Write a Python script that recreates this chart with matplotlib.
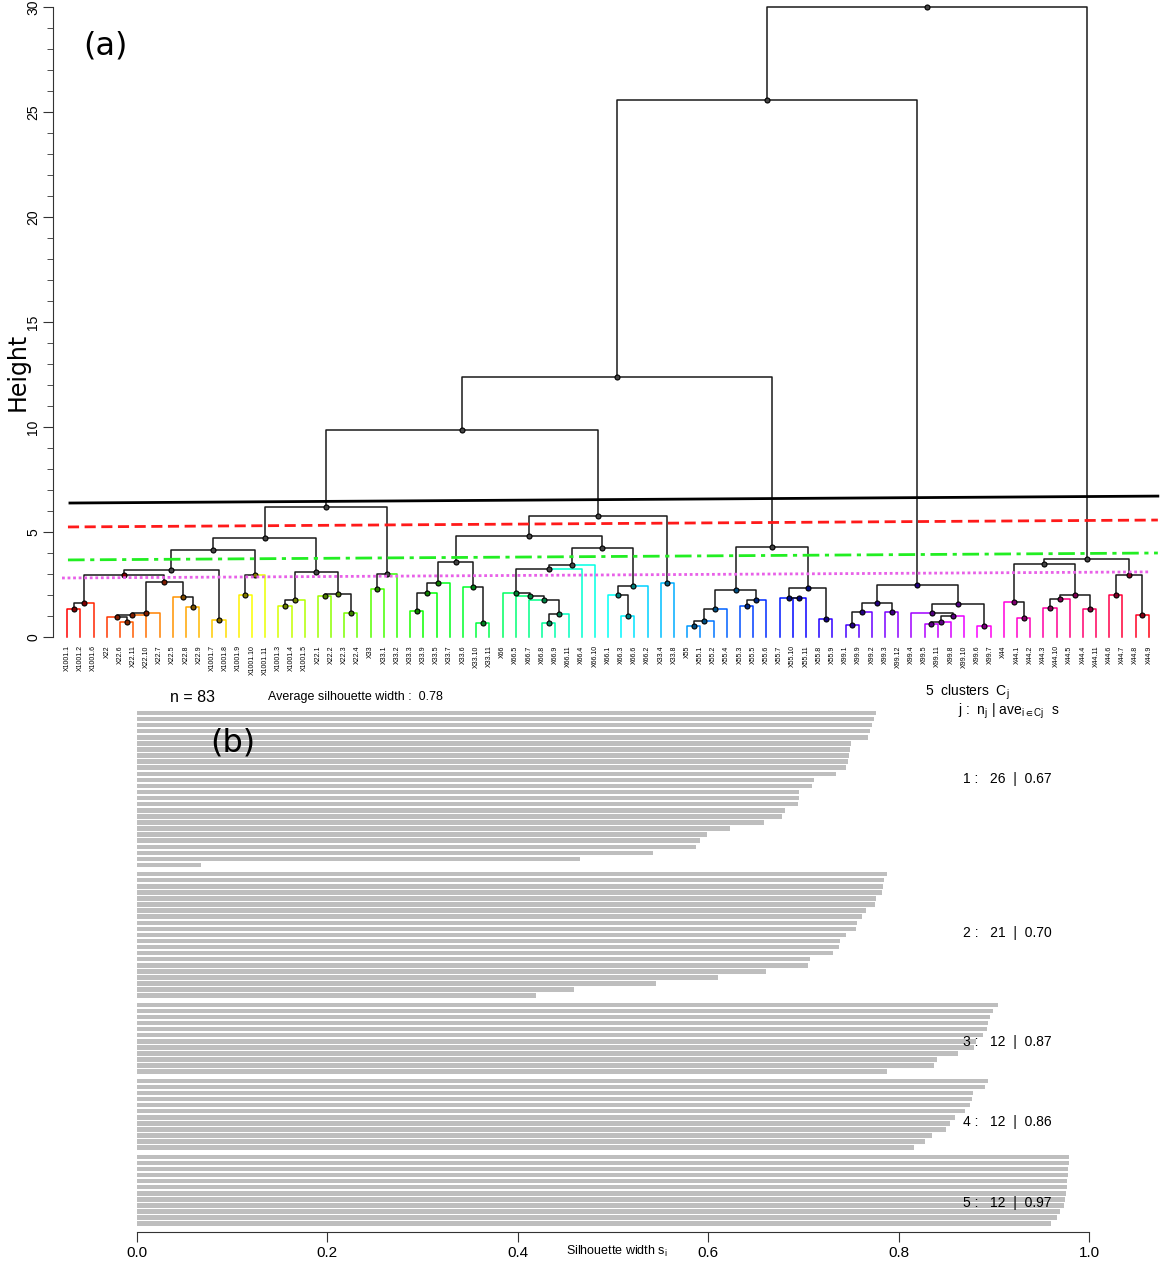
import numpy as np
import matplotlib
matplotlib.use("Agg")
import matplotlib.pyplot as plt
from matplotlib.colors import hsv_to_rgb

plt.rcParams['font.family'] = ['Liberation Sans', 'DejaVu Sans']
plt.rcParams['mathtext.default'] = 'regular'

W, H = 1163, 1262

# leaves in dendrogram order
leaf_labels = [
    "X1001.1", "X1001.2", "X1001.6", "X22", "X22.6", "X22.11", "X22.10", "X22.7",
    "X22.5", "X22.8", "X22.9", "X1001.7", "X1001.8", "X1001.9", "X1001.10",
    "X1001.11", "X1001.3", "X1001.4", "X1001.5", "X22.1", "X22.2", "X22.3",
    "X22.4", "X33", "X33.1", "X33.2", "X33.3", "X33.9", "X33.5", "X33.7", "X33.6",
    "X33.10", "X33.11", "X66", "X66.5", "X66.7", "X66.8", "X66.9", "X66.11",
    "X66.4", "X66.10", "X66.1", "X66.3", "X66.6", "X66.2", "X33.4", "X33.8",
    "X55", "X55.1", "X55.2", "X55.4", "X55.3", "X55.5", "X55.6", "X55.7",
    "X55.10", "X55.11", "X55.8", "X55.9", "X99.1", "X99.9", "X99.2", "X99.3",
    "X99.12", "X99.4", "X99.5", "X99.11", "X99.8", "X99.10", "X99.6", "X99.7",
    "X44", "X44.1", "X44.2", "X44.3", "X44.10", "X44.5", "X44.4", "X44.11",
    "X44.6", "X44.7", "X44.8", "X44.9",
]

# hclust-like merge table: negative = leaf position (1-based), positive = earlier merge
merge_left = [-1, 1, -5, -4, 4, 5, -10, -9, 6, 2, -12, 10, -14, 13, 12, -17, 16,
              -20, -22, 18, 17, 15, -24, 23, 22, -27, 26, 27, -32, -31, 28,
              -37, 32, -36, -35, -34, 36, 37, -43, -42, 40, 38, 31, -46, 43, 25,
              -48, 47, 48, -52, 50, 49, -56, -55, -58, 54, 52, 46,
              -60, 59, -63, 60, -66, 63, 64, -65, -70, 66, 62, 58,
              -73, -72, -75, 73, -78, 74, 72, -80, -82, 78, 77, 70]
merge_right = [-2, -3, -6, 3, -7, -8, -11, 7, 8, 9, -13, 11, -15, -16, 14, -18, -19,
               -21, -23, 19, 20, 21, -25, -26, 24, -28, -29, -30, -33, 29, 30,
               -38, -39, 33, 34, 35, -40, -41, -44, 39, -45, 41, 42, -47, 44, 45,
               -49, -50, -51, -53, -54, 51, -57, 53, -59, 55, 56, 57,
               -61, -62, -64, 61, -67, -68, -69, 65, -71, 67, 68, 69,
               -74, 71, -76, -77, -79, 75, 76, -81, -83, 79, 80, 81]
merge_height = [1.33, 1.60, 0.73, 0.94, 1.03, 1.13, 1.41, 1.92, 2.60, 2.95, 0.81, 3.17,
                2.01, 2.97, 4.16, 1.48, 1.76, 1.95, 1.13, 2.05, 3.11, 4.70, 2.30, 3.00,
                6.17, 1.25, 2.08, 2.55, 0.68, 2.40, 3.57, 0.65, 1.08, 1.76, 1.95, 2.10,
                3.24, 3.44, 1.02, 1.98, 2.45, 4.22, 4.79, 2.55, 5.78, 9.86,
                0.52, 0.75, 1.33, 1.48, 1.78, 2.22, 1.84, 1.87, 0.86, 2.35, 4.27, 12.38,
                0.57, 1.17, 1.17, 1.62, 0.62, 0.73, 1.00, 1.16, 0.52, 1.59, 2.46, 25.57,
                0.89, 1.65, 1.38, 1.79, 1.35, 2.00, 3.46, 2.00, 1.03, 2.94, 3.71, 30.0]

# cut lines (leaf coordinate / height at both ends)
cut_x0 = [1.2, 1.05, 1.05, 0.6]
cut_x1 = [83.68, 83.68, 83.68, 83.07]
cut_h0 = [6.38, 5.24, 3.67, 2.81]
cut_h1 = [6.71, 5.57, 4.00, 3.10]

# silhouette widths per cluster (sorted, top to bottom)
sil_c1 = [0.776, 0.774, 0.772, 0.770, 0.768, 0.750, 0.749, 0.748, 0.747, 0.745,
          0.734, 0.711, 0.709, 0.695, 0.695, 0.694, 0.681, 0.677, 0.659, 0.623,
          0.599, 0.591, 0.587, 0.542, 0.465, 0.067]
sil_c2 = [0.788, 0.785, 0.784, 0.783, 0.776, 0.775, 0.766, 0.762, 0.756, 0.755,
          0.745, 0.738, 0.737, 0.731, 0.707, 0.705, 0.661, 0.610, 0.545, 0.459, 0.419]
sil_c3 = [0.904, 0.899, 0.896, 0.894, 0.893, 0.889, 0.881, 0.879, 0.862, 0.840,
          0.837, 0.788]
sil_c4 = [0.894, 0.891, 0.878, 0.877, 0.875, 0.870, 0.859, 0.854, 0.850, 0.835,
          0.828, 0.816]
sil_c5 = [0.979, 0.979, 0.978, 0.978, 0.977, 0.977, 0.976, 0.975, 0.974, 0.970,
          0.966, 0.960]
sil_clusters = [sil_c1, sil_c2, sil_c3, sil_c4, sil_c5]


def fx(px):
    return px / W


def fy(py):
    return 1 - py / H


fig = plt.figure(figsize=(W / 100, H / 100), dpi=100)

# ---------------- (a) dendrogram ----------------
ax = fig.add_axes([fx(53), fy(637), (1160 - 53) / W, (637 - 7) / H])
n = len(leaf_labels)
leaf_x = np.arange(1, n + 1)
leaf_col = [hsv_to_rgb((i / n, 1.0, 1.0)) for i in range(n)]
dark = '#1a1a1a'

node_x, node_h, node_first = [], [], []


def child(c):
    if c < 0:
        return leaf_x[-c - 1], 0.0, leaf_col[-c - 1], -c - 1
    return node_x[c - 1], node_h[c - 1], dark, node_first[c - 1]


for l, r, h in zip(merge_left, merge_right, merge_height):
    xl, hl, cl, fl = child(l)
    xr, hr, cr, fr = child(r)
    xm = (xl + xr) / 2
    ax.plot([xl, xl, xm], [hl, h, h], color=cl, lw=1.1, clip_on=False, zorder=2)
    ax.plot([xr, xr, xm], [hr, h, h], color=cr, lw=1.1, clip_on=False, zorder=2)
    node_x.append(xm)
    node_h.append(h)
    node_first.append(fl)

# node points: dark dots, tinted with the branch colour near the leaves
for xm, h, f in zip(node_x, node_h, node_first):
    face = 0.5 * np.asarray(leaf_col[f]) if h < 3 else '#444444'
    ax.plot(xm, h, 'o', ms=3.6, mfc=face, mec='black', mew=0.8,
            clip_on=False, zorder=3)

cut_styles = [('black', '-', 2.0), ('#ff1a1a', (0, (4, 2)), 2.0),
              ('#22ee22', (0, (6, 2, 1.5, 2)), 2.0), ('#e860e8', (0, (1, 1)), 2.0)]
for x0, x1, h0, h1, (c, ls, lw) in zip(cut_x0, cut_x1, cut_h0, cut_h1, cut_styles):
    ax.plot([x0, x1], [h0, h1], color=c, ls=ls, lw=lw, clip_on=False, zorder=4)

ax.set_xlim(1 + (53 - 67.3) / 13.19, 1 + (1160 - 67.3) / 13.19)
ax.set_ylim(0, 30)
for s in ['top', 'right', 'bottom']:
    ax.spines[s].set_visible(False)
ax.spines['left'].set_color('#333333')
ax.set_xticks(leaf_x)
ax.set_xticklabels(leaf_labels, rotation=90, fontsize=5, va='top')
ax.tick_params(axis='x', length=0, pad=6)
ax.set_yticks(np.arange(0, 31, 5))
ax.set_yticks(np.arange(0, 31, 1), minor=True)
ax.tick_params(axis='y', which='major', length=7, labelsize=10, pad=2, color='#333333')
ax.tick_params(axis='y', which='minor', length=4, color='#333333')
for lbl in ax.get_yticklabels():
    lbl.set_rotation(90)
    lbl.set_va('center')

fig.text(fx(18), fy(372), "Height", rotation=90, fontsize=17, ha='center',
         va='center', family='DejaVu Sans')
fig.text(fx(105), fy(46), "(a)", fontsize=23, ha='center', va='center',
         family='DejaVu Sans')

# ---------------- (b) silhouette ----------------
ax2 = fig.add_axes([fx(137), fy(1232), 952 / W, (1232 - 700) / H])
pos, vals = [], []
k = 0
for ci, sv in enumerate(sil_clusters):
    for v in sv:
        pos.append(k + 0.5 * ci)
        vals.append(v)
        k += 1
ax2.barh(pos, vals, height=0.74, color='#bebebe', edgecolor='none')
ax2.set_xlim(0, 1)
ax2.set_ylim((1232 - 713) / 6.08, (700 - 713) / 6.08)
for s in ['top', 'right', 'left']:
    ax2.spines[s].set_visible(False)
ax2.spines['bottom'].set_color('#333333')
ax2.set_yticks([])
ax2.set_xticks(np.arange(0, 1.01, 0.2))
ax2.set_xticklabels([f"{t:.1f}" for t in np.arange(0, 1.01, 0.2)])
ax2.tick_params(axis='x', length=7, labelsize=11, pad=3, color='#333333')

fig.text(fx(617), fy(1251), "Silhouette width s$_i$", fontsize=9, ha='center', va='center')
fig.text(fx(193), fy(697), f"n = {len(vals)}", fontsize=11.5, ha='center', va='center')
fig.text(fx(268), fy(697), f"Average silhouette width :  {np.mean(vals):.2f}",
         fontsize=9, ha='left', va='center')
fig.text(fx(925), fy(692), f"{len(sil_clusters)}  clusters  C$_j$", fontsize=10,
         ha='left', va='center')
fig.text(fx(958), fy(711), "j :  n$_j$ | ave$_{i\\in Cj}$  s", fontsize=10,
         ha='left', va='center')
label_py = [779, 933, 1042, 1122, 1203]
for ci, (sv, py) in enumerate(zip(sil_clusters, label_py)):
    fig.text(fx(963), fy(py), f"{ci + 1} :   {len(sv)}  |  {np.mean(sv):.2f}",
             fontsize=10, ha='left', va='center')
fig.text(fx(233), fy(743), "(b)", fontsize=23, ha='center', va='center',
         family='DejaVu Sans')

fig.savefig("out.png", dpi=100)
